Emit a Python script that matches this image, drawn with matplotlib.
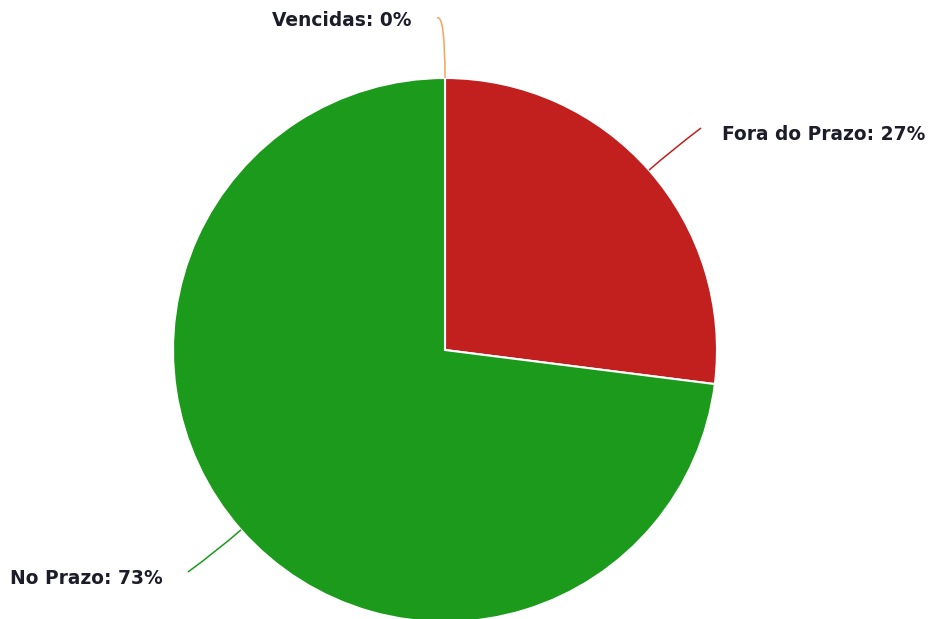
import matplotlib

matplotlib.use("Agg")
import matplotlib.pyplot as plt
import numpy as np
from matplotlib.path import Path
from matplotlib.patches import PathPatch

# data
labels = ["Vencidas", "Fora do Prazo", "No Prazo"]
values = [0, 27, 73]
colors = ["#f7a35c", "#c21f1f", "#1b9a1b"]

W, H = 936, 619
fig = plt.figure(figsize=(W / 100, H / 100), dpi=100)
ax = fig.add_axes([0, 0, 1, 1])

cx, cy, r = 445, H - 350, 272
ax.pie(
    values,
    colors=colors,
    startangle=90,
    counterclock=False,
    center=(cx, cy),
    radius=r,
    wedgeprops={"edgecolor": "white", "linewidth": 1.5},
    frame=True,
)
ax.set_xlim(0, W)
ax.set_ylim(0, H)
ax.set_aspect("equal")
ax.axis("off")

# label layout (pixel coords from top): text anchor, ha, connector end
layout = [
    ((411, 21), "right", (437, 18)),
    ((722, 135), "left", (701, 128)),
    ((10, 578), "left", (188, 572)),
]

total = float(sum(values))
start = 90.0
for name, val, col, (tpos, ha, cend) in zip(labels, values, colors, layout):
    span = 360.0 * val / total
    mid = np.deg2rad(start - span / 2)
    start -= span
    d = np.array([np.cos(mid), np.sin(mid)])
    p0 = np.array([cx, cy]) + r * d
    p2 = np.array([cend[0], H - cend[1]])
    if val == 0:
        p1 = np.array([p0[0], p2[1] + 4])
    else:
        p1 = np.array([cx, cy]) + (r + 30) * d
    path = Path([p0, p1, p2], [Path.MOVETO, Path.CURVE3, Path.CURVE3])
    ax.add_patch(PathPatch(path, facecolor="none", edgecolor=col, linewidth=1.1))
    ax.text(
        tpos[0],
        H - tpos[1],
        f"{name}: {val}%",
        ha=ha,
        va="center",
        fontsize=13.4,
        fontweight="bold",
        color="#1c1c2a",
    )

fig.savefig("out.png", dpi=100)
